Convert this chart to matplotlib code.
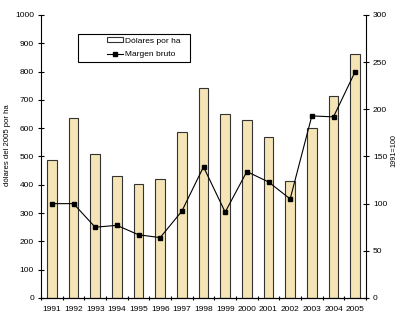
import matplotlib
matplotlib.use('Agg')
import matplotlib.pyplot as plt
from matplotlib.lines import Line2D
from matplotlib.patches import Patch, Rectangle
import numpy as np

plt.rcParams['font.family'] = ['Liberation Sans', 'DejaVu Sans']

years = ['1991', '1992', '1993', '1994', '1995', '1996', '1997', '1998',
         '1999', '2000', '2001', '2002', '2003', '2004', '2005']
dolares_ha = [487, 635, 509, 431, 402, 421, 587, 742,
              650, 629, 569, 412, 600, 715, 863]
margen_bruto = [100, 100, 75, 77, 67, 64, 92, 139,
                91, 134, 123, 105, 193, 192, 240]

bar_color = '#F4E4B6'
fs = 6.0

fig = plt.figure(figsize=(4.0, 3.26), dpi=100)
ax = fig.add_axes([0.1025, 0.086, 0.8125, 0.868])
x = np.arange(len(years))

ax.bar(x, dolares_ha, width=0.45, color=bar_color, edgecolor='#333333', linewidth=0.8)
ax.set_xlim(-0.5, len(years) - 0.5)
ax.set_ylim(0, 1000)
ax.set_yticks(np.arange(0, 1001, 100))
ax.set_xticks(x)
ax.set_xticklabels(years, fontsize=fs)
ax.set_xticks(np.arange(-0.5, len(years), 1), minor=True)
ax.tick_params(axis='x', which='major', length=0, pad=6)
ax.tick_params(axis='x', which='minor', length=3, direction='inout', width=0.8)
ax.tick_params(axis='y', labelsize=fs, length=4, direction='inout', width=0.8, pad=3)
ax.set_ylabel('dólares del 2005 por ha', fontsize=fs - 0.4)
ax.yaxis.set_label_coords(-0.093, 0.54)
ax.spines['top'].set_visible(False)
ax.spines['right'].set_visible(False)

ax2 = ax.twinx()
ax2.plot(x, margen_bruto, color='black', linewidth=0.8, marker='s', markersize=3.2)
ax2.set_ylim(0, 300)
ax2.set_yticks(np.arange(0, 301, 50))
ax2.tick_params(axis='y', labelsize=fs, length=4, direction='inout', width=0.8, pad=3)
ax2.set_ylabel('1991=100', fontsize=fs - 0.8)
ax2.yaxis.set_label_coords(1.076, 0.52)
ax2.spines['top'].set_visible(False)
ax2.spines['left'].set_visible(False)

# legend frame (Excel style, entries pushed to the right)
ax.add_patch(Rectangle((0.114, 0.834), 0.344, 0.099, transform=ax.transAxes,
                       facecolor='white', edgecolor='black', linewidth=0.8,
                       zorder=5, clip_on=False))
handles = [Patch(facecolor='white', edgecolor='#333333', linewidth=0.8),
           Line2D([], [], color='black', linewidth=0.8, marker='s', markersize=3.2)]
leg = ax.legend(handles, ['Dólares por ha', 'Margen bruto'], loc='center left',
                bbox_to_anchor=(0.19, 0.884), fontsize=fs, frameon=False,
                borderpad=0, handlelength=1.9, handleheight=0.55,
                handletextpad=0.3, labelspacing=0.75)
leg.set_zorder(6)

fig.savefig('out.png', dpi=100)
